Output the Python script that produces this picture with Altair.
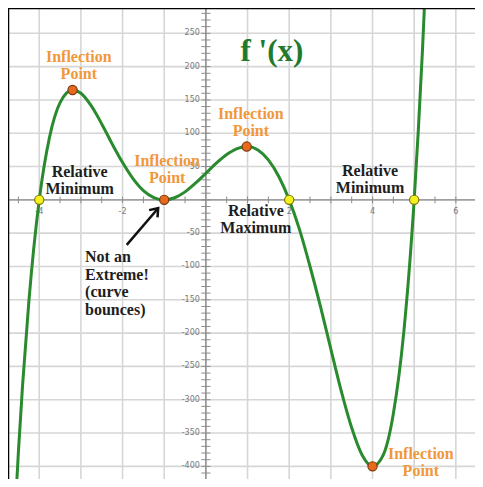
import altair as alt
import pandas as pd

# ---- data ----
curve_x = [-4.6, -4.5, -4.4, -4.25, -4.0, -3.75, -3.5, -3.2, -3.0, -2.75, -2.5, -2.25,
           -2.0, -1.75, -1.5, -1.25, -1.0, -0.75, -0.5, -0.25, 0.0, 0.25, 0.5, 0.75,
           1.0, 1.25, 1.5, 1.75, 2.0, 2.25, 2.5, 2.75, 3.0, 3.25, 3.5, 3.75, 4.0,
           4.25, 4.5, 4.75, 5.0, 5.1, 5.2, 5.3]
curve_y = [-493, -378, -278, -153, 0, 95, 146, 165, 160, 141, 114, 84,
           56, 32, 14, 3.5, 0, 3.2, 12, 25, 40, 55, 68, 77,
           80, 75, 60, 35, 0, -45, -100, -160, -224, -287, -342, -383, -400,
           -384, -321, -199, 0, 105, 226, 365]

yellow_x = [-4, 2, 5]
yellow_y = [0, 0, 0]
orange_x = [-3.2, -1, 0.98, 4]
orange_y = [165, 0, 80, -400]

grid_x = [-4, -3, -2, -1, 0, 1, 2, 3, 4, 5, 6]
grid_y = [-400, -350, -300, -250, -200, -150, -100, -50, 0, 50, 100, 150, 200, 250]
minor_x = [-4.5, -4, -3.5, -3, -2.5, -2, -1.5, -1, -0.5, 0.5, 1, 1.5, 2, 2.5, 3,
           3.5, 4, 4.5, 5, 5.5, 6, 6.5]
minor_y = list(range(-410, 290, 10))

x_labels = [-4, -2, 2, 4, 6]
x_label_text = ["-4", "-2", "2", "4", "6"]
y_labels = [250, 200, 150, 100, 50, -50, -100, -150, -200, -250, -300, -350, -400]
y_label_text = ["250", "200", "150", "100", "50", "-50", "-100", "-150", "-200",
                "-250", "-300", "-350", "-400"]

# annotation anchors (first text line)
infl_text = ["Inflection\nPoint"] * 4
infl_x = [-3.05, 1.08, -0.93, 5.16]
infl_y = [214.5, 129, 58.5, -381]

rel_text = ["Relative\nMinimum", "Relative\nMinimum", "Relative\nMaximum"]
rel_x = [-3.03, 3.94, 1.2]
rel_y = [42, 43.5, -16.5]

note_text = ["Not an\nExtreme!\n(curve\nbounces)"]
note_x = [-2.90]
note_y = [-85.5]

title_text = ["f '(x)"]
title_x = [1.585]
title_y = [222]

arrow_x = [-1.90]
arrow_y = [-67.5]
arrow_x2 = [-1.145]
arrow_y2 = [-12.5]

XDOM = [-4.75, 6.46]
YDOM = [-419, 288]


def X(f="x"):
    return alt.X(f, type="quantitative", scale=alt.Scale(domain=XDOM, nice=False, zero=False), axis=None)


def Y(f="y"):
    return alt.Y(f, type="quantitative", scale=alt.Scale(domain=YDOM, nice=False, zero=False), axis=None)


df_curve = pd.DataFrame({"x": curve_x, "y": curve_y})
df_yel = pd.DataFrame({"x": yellow_x, "y": yellow_y})
df_or = pd.DataFrame({"x": orange_x, "y": orange_y})
df_gx = pd.DataFrame({"x": grid_x})
df_gy = pd.DataFrame({"y": grid_y})
df_zero = pd.DataFrame({"x": [0], "y": [0]})
df_mx = pd.DataFrame({"x": minor_x, "lo": -5, "hi": 5})
df_my = pd.DataFrame({"y": minor_y, "lo": -0.11, "hi": 0.11})
df_xl = pd.DataFrame({"x": x_labels, "y": 0, "t": x_label_text})
df_yl = pd.DataFrame({"y": y_labels, "x": 0, "t": y_label_text})
df_inf = pd.DataFrame({"x": infl_x, "y": infl_y, "t": infl_text})
df_rel = pd.DataFrame({"x": rel_x, "y": rel_y, "t": rel_text})
df_note = pd.DataFrame({"x": note_x, "y": note_y, "t": note_text})
df_title = pd.DataFrame({"x": title_x, "y": title_y, "t": title_text})
df_arrow = pd.DataFrame({"x": arrow_x, "y": arrow_y, "x2": arrow_x2, "y2": arrow_y2})
df_edge = pd.DataFrame({"x": [XDOM[0]], "y": [YDOM[1]]})

GRID = "#d6d6d6"
AXIS = "#8c8c8c"
SERIF = "Liberation Serif"

grid_v = alt.Chart(df_gx).mark_rule(color=GRID, strokeWidth=1.6).encode(x=X())
grid_h = alt.Chart(df_gy).mark_rule(color=GRID, strokeWidth=1.6).encode(y=Y())

axis_x = alt.Chart(df_zero).mark_rule(color=AXIS, strokeWidth=1.4).encode(y=Y())
axis_y = alt.Chart(df_zero).mark_rule(color=AXIS, strokeWidth=1.4).encode(x=X())

ticks_x = alt.Chart(df_mx).mark_rule(color=AXIS, strokeWidth=1).encode(
    x=X(), y=Y("lo"), y2="hi")
ticks_y = alt.Chart(df_my).mark_rule(color=AXIS, strokeWidth=1).encode(
    y=Y(), x=X("lo"), x2="hi")

xlab = alt.Chart(df_xl).mark_text(fontSize=8, color="#7a7a7a", dy=12, font="DejaVu Sans").encode(
    x=X(), y=Y(), text="t:N")
ylab = alt.Chart(df_yl).mark_text(fontSize=8, color="#7a7a7a", dx=-6, align="right",
                                  baseline="middle", font="DejaVu Sans").encode(
    y=Y(), x=X(), text="t:N")

curve = alt.Chart(df_curve).mark_line(color="#2a8a2e", strokeWidth=3, interpolate="monotone",
                                      clip=True).encode(x=X(), y=Y())

pts_y = alt.Chart(df_yel).mark_point(filled=True, size=85, fill="#f5f01e", stroke="#7d7a10",
                                     strokeWidth=1.2, opacity=1).encode(x=X(), y=Y())
pts_o = alt.Chart(df_or).mark_point(filled=True, size=85, fill="#e8691c", stroke="#7a3a12",
                                    strokeWidth=1.2, opacity=1).encode(x=X(), y=Y())

t_inf = alt.Chart(df_inf).mark_text(font=SERIF, fontWeight="bold", fontSize=16, color="#f0983a",
                                    lineBreak="\n", lineHeight=17, baseline="middle").encode(
    x=X(), y=Y(), text="t:N")
t_rel = alt.Chart(df_rel).mark_text(font=SERIF, fontWeight="bold", fontSize=16, color="#1e1e1e",
                                    lineBreak="\n", lineHeight=17, baseline="middle").encode(
    x=X(), y=Y(), text="t:N")
t_note = alt.Chart(df_note).mark_text(font=SERIF, fontWeight="bold", fontSize=16, color="#1e1e1e",
                                      lineBreak="\n", lineHeight=17.7, baseline="middle",
                                      align="left").encode(x=X(), y=Y(), text="t:N")
t_title = alt.Chart(df_title).mark_text(font=SERIF, fontWeight="bold", fontSize=31, color="#1f7a2c",
                                        baseline="middle").encode(x=X(), y=Y(), text="t:N")

arrow_line = alt.Chart(df_arrow).mark_rule(color="#111111", strokeWidth=2.5).encode(
    x=X(), y=Y(), x2="x2", y2="y2")
arrow_head = alt.Chart(df_arrow).mark_point(shape="M-0.75,1L0,0L0.75,1", filled=False, size=220,
                                            stroke="#111111", strokeWidth=2.5, angle=41,
                                            opacity=1).encode(x=X("x2"), y=Y("y2"))

border_top = alt.Chart(df_edge).mark_rule(color="#000000", strokeWidth=2.5).encode(y=Y())
border_left = alt.Chart(df_edge).mark_rule(color="#000000", strokeWidth=2.5).encode(x=X())

chart = alt.layer(
    grid_v, grid_h, axis_x, axis_y, ticks_x, ticks_y, xlab, ylab,
    curve, pts_y, pts_o, t_inf, t_rel, t_note, t_title, arrow_line, arrow_head,
    border_top, border_left,
).properties(
    width=467, height=471, padding=0, autosize=alt.AutoSizeParams(type="none"),
    background="white",
).configure_view(stroke=None)

chart.save("out.html", embed_options={"renderer": "svg", "actions": False})
